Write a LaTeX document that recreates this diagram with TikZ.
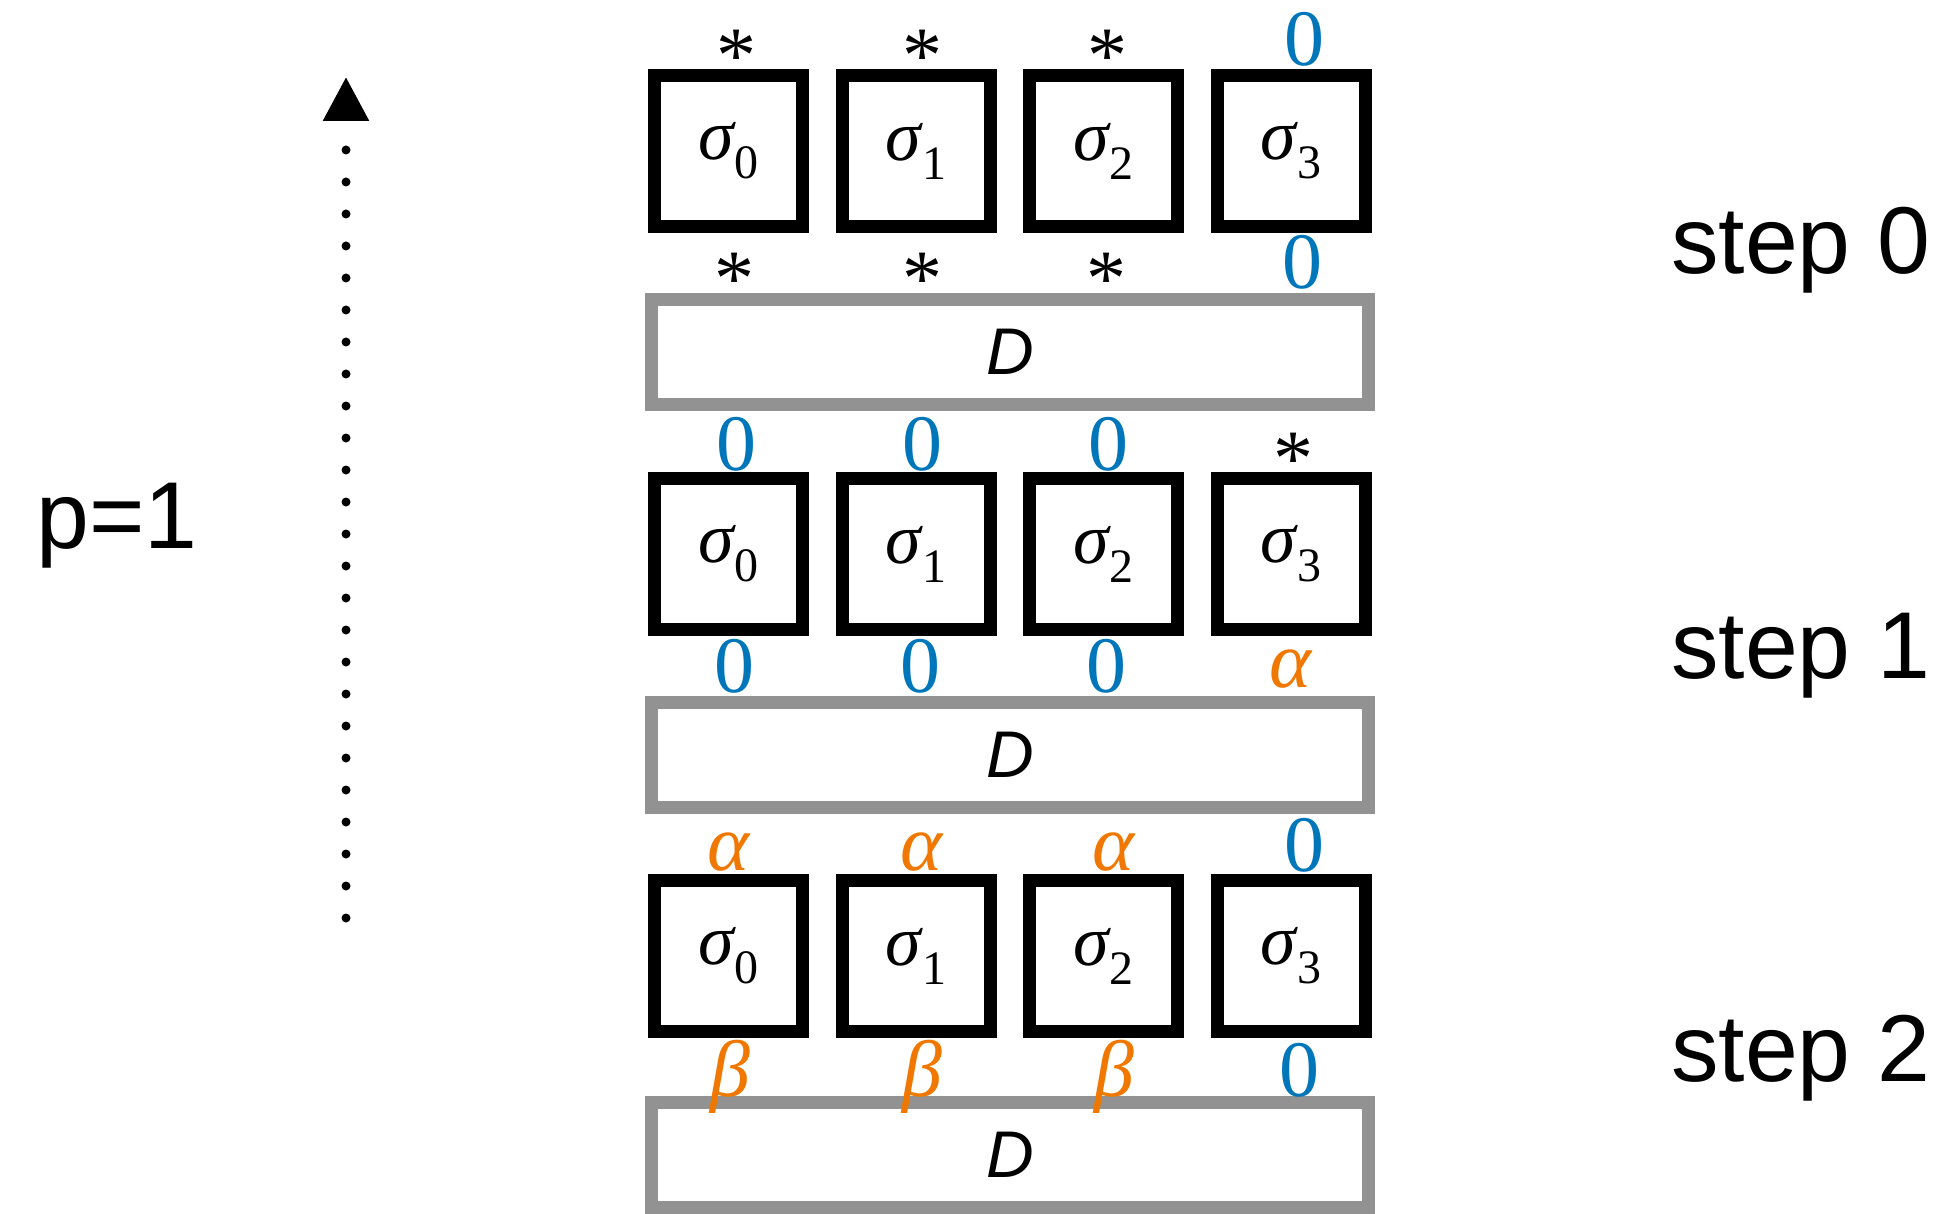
\documentclass[tikz,border=0pt]{standalone}
\usepackage{fontspec}
\setmainfont{Liberation Serif}
\newfontfamily\lserif{Liberation Serif}
\newfontfamily\lsans{Liberation Sans}
\usetikzlibrary{arrows.meta}
\definecolor{zblue}{RGB}{0,118,186}
\definecolor{zorange}{RGB}{240,120,0}
\definecolor{zgrey}{RGB}{146,146,146}
\newcommand{\sig}[1]{{\fontsize{72}{80}\selectfont\itshape σ}\kern1pt\raisebox{-19pt}{\fontsize{48}{50}\selectfont #1}}
\tikzset{
  sigbox/.style={draw=black, line width=13pt, minimum width=148pt, minimum height=151pt, inner sep=0pt, font=\lserif},
  dbox/.style={draw=zgrey, line width=13pt, minimum width=717pt, minimum height=105pt, inner sep=0pt, font=\lsans\itshape\fontsize{66}{70}\selectfont},
  lab/.style={inner sep=0pt, font=\lserif\fontsize{80}{90}\selectfont},
  blab/.style={lab, text=zblue},
  olab/.style={inner sep=0pt, text=zorange, font=\lserif\itshape\fontsize{80}{90}\selectfont},
  slab/.style={lab, anchor=base},
  steplab/.style={inner sep=0pt, anchor=base west, font=\lsans\fontsize{95}{100}\selectfont}
}
\begin{document}
\begin{tikzpicture}[x=1pt,y=-1pt]
\useasboundingbox (0,0) rectangle (1946,1214);
% arrow
\coordinate (arrS) at (346,918);
\coordinate (arrE) at (346,77);
\draw[line width=9pt, line cap=round, dash pattern=on 0pt off 32pt, -{Triangle[length=44pt,width=44pt]}] (arrS) -- (arrE);
\node[steplab] (p) at (36,548) {p=1};
% steps
\node[steplab] (st0) at (1671,274) {step 0};
\node[steplab] (st1) at (1671,678) {step 1};
\node[steplab] (st2) at (1671,1081) {step 2};
% boxes
\foreach \i/\x in {0/728.5,1/916,2/1103.5,3/1291}{
  \node[sigbox] (a\i) at (\x,151) {\sig{\i}};
  \node[sigbox] (b\i) at (\x,554) {\sig{\i}};
  \node[sigbox] (c\i) at (\x,956) {\sig{\i}};
}
\node[dbox] (d0) at (1010,352) {D};
\node[dbox] (d1) at (1010,755) {D};
\node[dbox] (d2) at (1010,1155) {D};
% row 0 labels
\node[slab] (a0t) at (736,83) {*};
\node[slab] (a1t) at (922,83) {*};
\node[slab] (a2t) at (1107,83) {*};
\node[blab] (a3t) at (1304,39) {0};
\node[slab] (a0b) at (734,306) {*};
\node[slab] (a1b) at (922,306) {*};
\node[slab] (a2b) at (1106,306) {*};
\node[blab] (a3b) at (1302,262) {0};
% row 1 labels
\node[blab] (b0t) at (736,444) {0};
\node[blab] (b1t) at (922,444) {0};
\node[blab] (b2t) at (1108,444) {0};
\node[slab] (b3t) at (1293,485) {*};
\node[blab] (b0b) at (734,666) {0};
\node[blab] (b1b) at (920,666) {0};
\node[blab] (b2b) at (1106,666) {0};
\node[olab] (b3b) at (1290,669) {α};
% row 2 labels
\node[olab] (c0t) at (728,852) {α};
\node[olab] (c1t) at (921,852) {α};
\node[olab] (c2t) at (1113,852) {α};
\node[blab] (c3t) at (1304,845) {0};
\node[olab] (c0b) at (730,1077) {β};
\node[olab] (c1b) at (922,1077) {β};
\node[olab] (c2b) at (1114,1077) {β};
\node[blab] (c3b) at (1299,1070) {0};
\end{tikzpicture}
\end{document}
